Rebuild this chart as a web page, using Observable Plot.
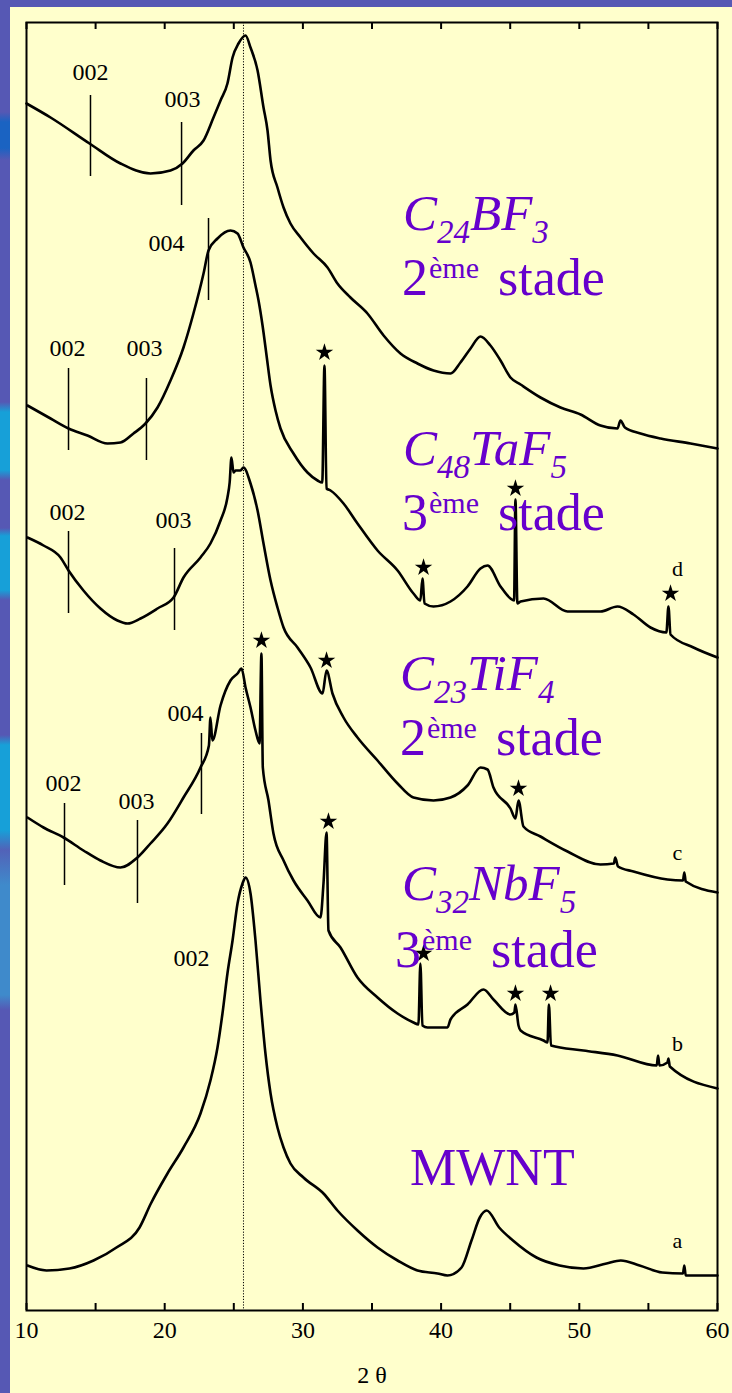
<!DOCTYPE html>
<html><head><meta charset="utf-8">
<script src="https://cdn.jsdelivr.net/npm/d3@7"></script>
<script src="https://cdn.jsdelivr.net/npm/@observablehq/plot@0.6"></script>
<style>
html,body{margin:0;padding:0;}
body{width:732px;height:1393px;position:relative;overflow:hidden;background:#5658b4;}
#strip{position:absolute;left:0;top:0;width:10px;height:1393px;
background:linear-gradient(to bottom,#5658b4 0px,#5658b4 112px,#1a63c2 122px,#1a63c2 148px,#5658b4 160px,#5658b4 402px,#17a0d8 412px,#17a0d8 470px,#5658b4 480px,#5658b4 528px,#17a0d8 536px,#17a0d8 590px,#5658b4 600px,#5658b4 735px,#17a0d8 745px,#17a0d8 830px,#5262b8 850px,#3f8acb 885px,#3f8acb 995px,#5658b4 1010px,#5658b4 1393px);}
#panel{position:absolute;left:10px;top:7px;width:722px;height:1386px;background:#ffffcc;}
#chart{position:absolute;left:0;top:0;}
</style></head><body>
<div id="strip"></div><div id="panel"></div><div id="chart"></div>
<script>
// ---- data (2θ in degrees, intensity in arbitrary units incl. vertical offset) ----
const twoThetaA = [10.07,11.45,13.11,14.85,16.51,18.18,19.0,20.2,21.36,22.59,23.31,23.82,24.18,24.54,24.91,25.27,25.63,25.85,26.21,26.57,26.93,27.29,27.66,28.16,28.6,29.1,30.04,31.49,32.5,33.95,35.4,36.85,38.29,39.74,40.46,41.48,42.2,42.8,43.3,44.2,45.2,46.9,48.57,50.3,51.97,53.0,54.36,56.0,57.5,57.6,57.7,60];
const intensityA = [45,40,42,50,63,83,107,137,163,197,230,263,297,337,370,407,427,433,417,370,310,257,217,183,163,147,133,117,100,80,63,50,40,37,35,43,70,93,100,83,70,53,45,42,47,50,45,38,37,45,35,35];

const twoThetaB = [10.07,11.23,12.68,14.12,15.35,16.8,18.03,18.97,20.2,21.36,22.59,23.2,23.31,23.45,24.04,24.76,25.27,25.56,25.85,26.21,26.57,26.86,27.0,27.1,27.51,27.87,28.6,29.32,30.33,31.27,31.49,31.71,31.85,32.72,33.95,35.4,36.85,38.0,38.36,38.5,38.65,39.02,40.46,40.68,41.91,43.07,43.79,45.02,45.3,45.38,45.6,45.75,47.41,47.7,47.8,47.95,50.3,52.76,55.6,55.7,55.8,56.38,56.45,56.55,60];
const intensityB = [493,483,473,460,450,443,453,467,487,513,543,565,593,570,605,630,637,642,623,603,580,567,657,543,510,477,450,430,410,393,427,478,380,363,333,313,297,288,286,347,285,283,283,291,306,321,311,296,298,306,285,280,270,268,306,265,260,255,245,255,245,248,252,244,222];

const twoThetaC = [10.07,11.23,12.46,13.04,14.12,15.35,16.58,17.31,18.25,19.48,20.64,21.36,22.59,23.31,24.04,24.54,24.7,24.83,24.98,25.12,25.48,25.7,26.21,26.72,27.15,27.66,28.16,28.6,29.61,30.55,31.42,31.71,32.14,32.94,33.95,35.4,36.85,38.0,39.45,40.68,41.91,42.85,43.36,43.79,45.02,45.38,45.6,45.96,47.19,49.15,51.53,52.5,52.6,52.8,53.92,56.38,57.5,57.6,57.7,60];
const intensityC = [773,765,753,740,720,702,690,687,692,702,713,733,753,767,790,813,828,853,838,840,840,843,827,800,767,730,703,683,663,643,617,640,617,593,573,550,527,513,510,513,525,543,541,523,502,492,510,484,474,459,446,447,453,444,439,431,430,438,429,418];

const twoThetaD = [10.07,11.74,13.04,14.41,15.86,16.8,17.74,18.61,19.48,20.42,21.36,22.08,22.81,23.17,23.82,24.76,25.27,25.7,26.21,26.57,26.79,27.08,27.37,27.66,28.02,28.38,29.32,30.33,31.06,31.4,31.56,31.71,32.0,32.94,33.95,35.4,36.85,38.0,38.5,38.65,38.8,39.45,40.68,41.91,42.85,43.36,44.3,45.02,45.28,45.38,45.52,45.75,47.41,49.15,51.53,52.76,53.92,55.15,56.3,56.45,56.6,58.26,60];
const intensityD = [905,892,882,875,867,868,877,887,903,930,963,997,1037,1060,1072,1080,1077,1063,1048,1025,1010,985,955,925,900,882,857,838,830,828,945,822,820,807,787,760,740,717,710,732,707,704,709,724,742,745,724,712,710,811,707,709,712,699,699,704,696,683,678,704,676,663,653];

const twoThetaE = [10.0,11.74,14.56,16.8,18.97,20.42,21.29,22.08,22.81,23.53,24.04,24.54,24.91,25.34,25.85,26.21,26.72,27.15,27.44,27.66,28.16,28.6,29.1,29.83,30.77,31.78,32.5,33.44,34.67,35.84,37.06,38.29,39.45,40.68,41.4,42.13,42.85,43.57,44.3,45.02,45.75,47.19,48.64,50.09,51.53,52.76,52.98,53.3,54.43,55.88,58.05,60];
const intensityE = [1207,1193,1167,1147,1137,1140,1147,1160,1170,1193,1210,1227,1253,1267,1275,1263,1240,1203,1180,1150,1123,1103,1087,1073,1057,1043,1027,1013,997,975,957,947,940,937,948,962,974,965,950,933,926,913,903,896,885,882,890,883,877,872,867,862];

// reflection markers (hkl)
const hklLabels = ["002","003","004","002","003","002","003","002","003","004"];
const hklTwoTheta = [14.63,21.22,23.17,13.04,18.68,13.04,20.71,12.75,18.03,22.66];
const hklLow  = [1134,1105,1010,860,850,697,680,425,407,496];
const hklHigh = [1215,1188,1092,942,932,779,762,507,490,577];
const hklTextX = [14.63,21.29,20.13,12.97,18.54,12.97,20.64,12.68,17.96,21.5];
const hklTextY = [1238,1211,1067,962,962,798,790,527,509,597];
const mwntLabel = {label:"002", x:21.94, y:352};

// impurity stars
const starTwoTheta = [31.56,38.73,45.38,56.6,31.71,45.6,27.0,31.85,38.73,45.38,47.92];
const starIntensity = [958,743,822,717,650,522,670,489,357,317,317];

// curve letters
const curveLetters = ["d","c","b","a"];
const letterTwoTheta = [57.1,57.1,57.1,57.1];
const letterIntensity = [742,458,267,70];

const xTicks = [10,20,30,40,50,60];
const xMinorTicks = [10,15,20,25,30,35,40,45,50,55,60];
const referenceLine = [25.7];

// compound names
const compoundParts = [
  [["C",0],["24",1],["BF",0],["3",1]],
  [["C",0],["48",1],["TaF",0],["5",1]],
  [["C",0],["23",1],["TiF",0],["4",1]],
  [["C",0],["32",1],["NbF",0],["5",1]]
];
const stageNumbers = ["2","3","2","3"];
const compoundPos = [[37.28,1080],[37.28,845],[37.06,620],[37.21,410]];
const stagePos = [[37.21,1015],[37.21,780],[37.06,555],[36.7,343]];
const mwntName = "MWNT";
const mwntPos = [37.79,125];

// ---- build rows ----
const series = [
  ["a",twoThetaA,intensityA],["b",twoThetaB,intensityB],["c",twoThetaC,intensityC],
  ["d",twoThetaD,intensityD],["e",twoThetaE,intensityE]
];
const rows = series.flatMap(([s,xs,ys]) => xs.map((x,i)=>({s,x,y:ys[i]})));
const hkl = hklLabels.map((l,i)=>({l,x:hklTwoTheta[i],y1:hklLow[i],y2:hklHigh[i],tx:hklTextX[i],ty:hklTextY[i]}));
const stars = starTwoTheta.map((x,i)=>({x,y:starIntensity[i]}));
const letters = curveLetters.map((l,i)=>({l,x:letterTwoTheta[i],y:letterIntensity[i]}));

const serif = "Liberation Serif";
const purple = "#6600cc";

const plot = Plot.plot({
  width: 732, height: 1393,
  marginLeft: 26, marginRight: 15, marginTop: 22, marginBottom: 83,
  x: {domain: [10,60]},
  y: {domain: [0,1288], axis: null},
  style: {background: "transparent", fontFamily: serif, color: "black", overflow: "visible"},
  marks: [
    Plot.ruleX(referenceLine, {stroke:"black", strokeWidth:1, strokeDasharray:"1.2,1.6"}),
    Plot.line(rows, {x:"x", y:"y", z:"s", stroke:"black", strokeWidth:2.6, strokeLinejoin:"round", curve:"monotone-x"}),
    Plot.ruleX(hkl, {x:"x", y1:"y1", y2:"y2", stroke:"black", strokeWidth:1.5}),
    Plot.text(hkl, {x:"tx", y:"ty", text:"l", fontSize:24, fontFamily:serif, fill:"black"}),
    Plot.text([mwntLabel], {x:"x", y:"y", text:"label", fontSize:24, fontFamily:serif, fill:"black"}),
    Plot.dot(stars, {x:"x", y:"y", symbol:"star", r:5.5, fill:"black", stroke:"none"}),
    Plot.text(letters, {x:"x", y:"y", text:"l", fontSize:22, fontFamily:serif, fill:"black"}),
    Plot.ruleX(xMinorTicks, {y1:0, y2:7, stroke:"black", strokeWidth:2}),
    Plot.ruleX(xMinorTicks, {y1:1281, y2:1288, stroke:"black", strokeWidth:2}),
    Plot.frame({stroke:"black", strokeWidth:2}),
    Plot.axisX(xTicks, {tickSize:0, tickPadding:10, fontSize:24, fontFamily:serif, label:null, fill:"black"}),
    Plot.text(["2 θ"], {frameAnchor:"bottom", dy:72, fontSize:24, fontFamily:serif, fill:"black"})
  ]
});
d3.select(plot).attr("font-family", serif);
document.getElementById("chart").appendChild(plot);

const sx = plot.scale("x"), sy = plot.scale("y");
const g = d3.select(plot).append("g")
  .attr("font-family", serif).attr("fill", purple).attr("text-anchor", "start");
function rich(x, y, parts){
  const t = g.append("text").attr("x", sx.apply(x)).attr("y", sy.apply(y)).attr("text-anchor", "start");
  let cur = 0;
  parts.forEach(p=>{
    const off = p.off || 0;
    const ts = t.append("tspan").attr("dy", off - cur).attr("font-size", p.size)
      .attr("font-style", p.italic ? "italic" : "normal").text(p.t);
    if (p.dx) ts.attr("dx", p.dx);
    cur = off;
  });
}
compoundParts.forEach((parts,i)=>{
  rich(compoundPos[i][0], compoundPos[i][1], parts.map(([t,sub])=>({t, size: sub?33:51, off: sub?13:0, italic:true})));
  rich(stagePos[i][0], stagePos[i][1], [
    {t: stageNumbers[i], size:52, off:0},
    {t: "ème", size:30, off:-17, dx:1},
    {t: " stade", size:52, off:0, dx:6}
  ]);
});
rich(mwntPos[0], mwntPos[1], [{t: mwntName, size:52, off:0}]);
</script>
</body></html>
